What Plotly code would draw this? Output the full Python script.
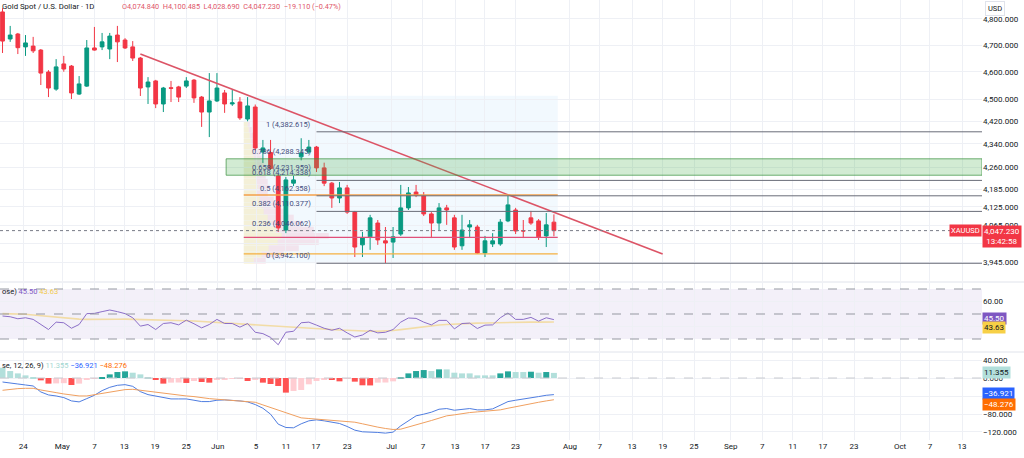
import numpy as np
import plotly.graph_objects as go

GREEN = "#089981"
RED = "#f23645"
GRID = "#eef0f5"
TXT = "#131722"
FONT = "Roboto, 'Noto Sans', sans-serif"

# daily bars, oldest first
OPEN = [4827, 4723, 4742, 4693, 4696, 4681, 4599, 4536, 4629, 4621, 4518, 4547, 4689, 4693, 4685,
        4738, 4719, 4693, 4651, 4544, 4566, 4482, 4541, 4544, 4547, 4569, 4507, 4453, 4493, 4522,
        4482, 4489, 4428, 4471, 4312, 4310, 4229, 4049, 4205, 4295, 4312, 4329, 4257, 4205, 4155,
        4189, 4108, 4001, 4027, 4072, 4014, 4010, 4036, 4122, 4175, 4162, 4102, 4072, 4122, 4089,
        3998, 4059, 4059, 3975, 4004, 4004, 4079, 4115, 4047, 4089, 4079, 4030, 4074.840]
HIGH = [4842, 4773, 4746, 4738, 4731, 4685, 4606, 4647, 4659, 4625, 4584, 4719, 4769, 4746, 4746,
        4773, 4726, 4715, 4655, 4580, 4570, 4544, 4566, 4548, 4580, 4573, 4511, 4595, 4595, 4533,
        4533, 4507, 4507, 4480, 4354, 4354, 4235, 4226, 4230, 4360, 4354, 4333, 4275, 4209, 4209,
        4199, 4112, 4043, 4099, 4082, 4059, 4059, 4199, 4192, 4199, 4175, 4108, 4138, 4132, 4099,
        4099, 4082, 4066, 4030, 4039, 4085, 4162, 4122, 4082, 4112, 4085, 4105, 4100.485]
LOW = [4670, 4712, 4666, 4659, 4670, 4551, 4507, 4530, 4600, 4500, 4515, 4544, 4679, 4681, 4647,
       4636, 4685, 4640, 4511, 4482, 4467, 4453, 4489, 4489, 4540, 4486, 4400, 4364, 4489, 4450,
       4475, 4425, 4420, 4318, 4274, 4250, 4043, 4039, 4195, 4283, 4305, 4243, 4195, 4122, 4138,
       4102, 3962, 3962, 3985, 4001, 3943, 3959, 4030, 4115, 4158, 4095, 4023, 4049, 4066, 3985,
       3985, 4023, 3972, 3962, 3994, 3998, 4075, 4036, 4023, 4066, 4017, 3994, 4028.690]
CLOSE = [4715, 4738, 4690, 4708, 4678, 4595, 4540, 4618, 4610, 4522, 4555, 4689, 4681, 4712, 4734,
         4712, 4689, 4651, 4540, 4562, 4482, 4540, 4539, 4507, 4566, 4504, 4453, 4493, 4540, 4482,
         4486, 4432, 4475, 4326, 4326, 4255, 4056, 4216, 4216, 4308, 4329, 4257, 4205, 4155, 4189,
         4108, 3994, 4023, 4089, 4017, 4007, 4027, 4122, 4172, 4165, 4102, 4072, 4122, 4115, 3994,
         4049, 4066, 3975, 4014, 4014, 4075, 4132, 4046, 4046, 4072, 4027, 4066, 4047.230]

RSI = [48.4, 47.8, 46.2, 47.0, 45.7, 41.6, 37.6, 43.5, 43.0, 38.6, 41.6, 50.3, 50.5, 51.9, 53.2,
       51.9, 50.3, 47.0, 40.3, 41.6, 37.6, 42.4, 43.0, 41.3, 45.1, 42.2, 38.9, 41.6, 45.7, 42.4,
       42.4, 39.5, 42.4, 35.4, 34.3, 31.3, 25.4, 35.4, 36.2, 43.0, 43.5, 41.1, 38.6, 37.0, 38.6,
       34.9, 31.6, 33.2, 37.0, 34.9, 35.4, 37.6, 43.5, 46.8, 46.5, 43.5, 41.3, 44.9, 44.9, 38.1,
       42.4, 42.7, 38.4, 41.1, 41.3, 47.0, 50.8, 45.7, 45.7, 47.3, 44.3, 47.0, 45.50]
RSI_MA = [50.3, 50.2, 50.0, 49.8, 49.2, 48.6, 48.0, 47.6, 47.0, 46.4, 45.9, 45.7, 45.6, 45.6, 45.7,
          45.8, 45.9, 45.8, 45.6, 45.5, 45.4, 45.2, 45.0, 44.8, 44.6, 44.4, 44.0, 43.6, 43.2, 42.8,
          42.3, 41.9, 41.5, 41.2, 40.9, 40.5, 40.1, 39.6, 39.1, 38.6, 38.2, 37.9, 37.6, 37.4, 37.2,
          37.0, 36.6, 36.3, 36.2, 36.2, 36.3, 36.8, 37.5, 38.3, 39.2, 40.0, 40.6, 41.2, 41.6, 42.0,
          42.3, 42.5, 42.7, 42.8, 43.0, 43.1, 43.2, 43.3, 43.4, 43.5, 43.5, 43.6, 43.63]

MACD = [-8.9, -10.3, -13.3, -15.5, -17.7, -31.0, -37.6, -39.9, -43.5, -50.9, -53.1, -45.8, -38.4,
        -28.0, -20.7, -16.2, -14.8, -18.5, -30.3, -36.9, -39.9, -42.1, -46.5, -46.5, -46.5, -49.4,
        -52.4, -52.4, -49.4, -48.7, -49.4, -50.9, -53.1, -59.0, -67.2, -80.4, -102.6, -110.0,
        -110.7, -101.8, -95.2, -93.0, -95.2, -98.9, -101.1, -107.7, -115.9, -119.6, -119.6, -121.0,
        -122.5, -120.3, -106.3, -94.5, -84.1, -80.4, -76.0, -69.4, -67.9, -71.6, -69.4, -67.9,
        -70.8, -70.8, -68.6, -60.5, -52.4, -49.4, -47.2, -43.5, -41.3, -38.4, -36.921]
SIGNAL = [-27.3, -25.1, -23.6, -22.9, -22.9, -26.6, -30.3, -32.5, -35.4, -37.6, -39.9, -39.9, -36.9,
          -33.2, -31.0, -28.0, -25.8, -25.1, -27.3, -29.5, -31.7, -34.7, -36.9, -38.4, -39.9, -41.3,
          -44.3, -45.8, -47.2, -48.7, -49.4, -50.2, -51.7, -53.9, -59.8, -65.7, -70.8, -78.2,
          -84.1, -88.6, -90.0, -91.5, -92.3, -93.7, -94.5, -95.9, -98.2, -101.8, -106.3, -109.2,
          -112.2, -114.4, -113.7, -109.2, -104.8, -99.6, -94.5, -89.3, -84.1, -81.9, -79.0, -76.8,
          -75.3, -73.8, -72.3, -70.8, -67.2, -63.5, -60.5, -56.8, -53.9, -50.9, -48.276]
HIST = [22.9, 15.5, 10.3, 5.9, 1.5, -5.2, -12.5, -12.0, -11.5, -15.5, -12.5, -4.4, -1.5, 0.7, 8.1,
        13.3, 14.8, 11.8, 8.1, 1.5, -4.4, -12.5, -10.3, -10.0, -11.0, -6.6, -8.9, -10.3, -4.4, -3.0,
        -1.5, -1.2, -6.6, -3.0, -10.3, -13.3, -17.7, -32.5, -28.8, -26.6, -14.0, -6.6, -3.0, -4.4,
        -7.4, -1.5, -8.1, -16.2, -16.5, -10.3, -10.0, -7.4, 2.2, 10.3, 15.5, 17.7, 15.5, 19.2, 19.2,
        11.8, 10.3, 10.3, 5.9, 5.9, 5.9, 10.3, 14.8, 13.3, 13.3, 14.0, 11.8, 13.3, 11.355]

# date axis (bar positions of the labels)
TICK_POS = [2.7, 7.8, 12.0, 15.9, 19.9, 24.0, 28.1, 33.1, 37.0, 40.9, 45.0, 50.8, 54.9, 59.1, 63.0,
            67.0, 74.1, 78.0, 82.2, 86.2, 90.3, 95.1, 99.2, 103.2, 107.1, 111.2, 117.2, 121.1, 125.3]
TICK_TEXT = ["24", "May", "7", "13", "19", "25", "Jun", "5", "11", "17", "23", "Jul", "7", "13", "17",
             "23", "Aug", "7", "13", "19", "25", "Sep", "7", "11", "17", "23", "Oct", "7", "13"]
PRICE_TICKS = [4800, 4700, 4600, 4500, 4420, 4340, 4260, 4185, 4125, 4065, 4005, 3945]

# fibonacci retracement 3,942.100 -> 4,382.615
FIB_RATIOS = [1, 0.786, 0.658, 0.618, 0.5, 0.382, 0.236, 0]
FIB_LOW, FIB_HIGH = 3942.100, 4382.615
FIB_LINE_RATIOS = [1, 0.618, 0.5, 0.382, 0]

# trend line anchors (bar, price)
TREND_X = [18, 86.2]
TREND_Y = [4666, 3972]

# fixed range volume profile rows
VP_PRICE = [4410, 4390, 4370, 4350, 4330, 4310, 4290, 4270, 4250, 4230, 4210, 4190,
            4170, 4150, 4130, 4110, 4090, 4070, 4050, 4030, 4010, 3990, 3970, 3950]
VP_UP = [4, 5, 6, 7, 8, 9, 10, 11, 12, 12, 13, 14, 13, 16, 18, 20, 24, 27, 32, 38, 34, 25, 18, 10]
VP_DOWN = [2, 3, 4, 5, 6, 7, 8, 9, 10, 10, 11, 12, 11, 14, 16, 20, 26, 31, 38, 47, 41, 30, 22, 12]
VP_POC, VP_VAH, VP_VAL = 4025, 4165, 3972

LAST = CLOSE[-1]
n = len(CLOSE)
bars = list(range(n))

fig = go.Figure()

fig.add_trace(go.Candlestick(
    x=bars, open=OPEN, high=HIGH, low=LOW, close=CLOSE,
    increasing=dict(line=dict(color=GREEN, width=1), fillcolor=GREEN),
    decreasing=dict(line=dict(color=RED, width=1), fillcolor=RED),
    whiskerwidth=0, xaxis="x", yaxis="y", hoverinfo="skip"))

fig.add_trace(go.Scatter(x=TREND_X, y=TREND_Y, mode="lines",
                         line=dict(color="#dc5466", width=1.6), xaxis="x", yaxis="y"))

# RSI pane
fig.add_trace(go.Scatter(x=bars, y=RSI_MA, mode="lines",
                         line=dict(color="#f2dca6", width=1.6), xaxis="x", yaxis="y2"))
fig.add_trace(go.Scatter(x=bars, y=RSI, mode="lines",
                         line=dict(color="#8c6fc8", width=1), xaxis="x", yaxis="y2"))

# MACD pane
hist_colors = []
for i, h in enumerate(HIST):
    prev = HIST[i - 1] if i > 0 else h
    if h >= 0:
        hist_colors.append("#26a69a" if h > prev else "#b2dfdb")
    else:
        hist_colors.append("#ff5252" if h < prev else "#ffcdd2")
fig.add_trace(go.Bar(x=bars, y=HIST, marker=dict(color=hist_colors, line=dict(width=0)),
                     width=0.78, xaxis="x", yaxis="y3"))
fig.add_trace(go.Scatter(x=bars, y=MACD, mode="lines",
                         line=dict(color="#4f7de0", width=1), xaxis="x", yaxis="y3"))
fig.add_trace(go.Scatter(x=bars, y=SIGNAL, mode="lines",
                         line=dict(color="#f0a060", width=1), xaxis="x", yaxis="y3"))

X_RIGHT = 127.9
shapes = []
fib_start, fib_end = 31.5, 72.5
# fib background
shapes.append(dict(type="rect", xref="x", yref="y", x0=fib_start, x1=fib_end, y0=FIB_LOW, y1=4512,
                   fillcolor="rgba(33,150,243,0.06)", line=dict(width=0), layer="below"))
# volume profile
bar_px = 7.66
for p, u, d in zip(VP_PRICE, VP_UP, VP_DOWN):
    shapes.append(dict(type="rect", xref="x", yref="y", x0=fib_start, x1=fib_start + u / bar_px,
                       y0=p - 9.5, y1=p + 9.5, fillcolor="rgba(251,220,120,0.28)",
                       line=dict(width=0), layer="below"))
    shapes.append(dict(type="rect", xref="x", yref="y", x0=fib_start + u / bar_px,
                       x1=fib_start + (u + d) / bar_px, y0=p - 9.5, y1=p + 9.5,
                       fillcolor="rgba(242,120,150,0.16)", line=dict(width=0), layer="below"))
for lvl, col in [(VP_POC, "#e0507a"), (VP_VAH, "#f5a04a"), (VP_VAL, "#f5b041")]:
    shapes.append(dict(type="line", xref="x", yref="y", x0=fib_start, x1=fib_end, y0=lvl, y1=lvl,
                       line=dict(color=col, width=1.3)))
# green zone 0.658 - 0.786
z_lo = FIB_LOW + 0.658 * (FIB_HIGH - FIB_LOW)
z_hi = FIB_LOW + 0.786 * (FIB_HIGH - FIB_LOW)
shapes.append(dict(type="rect", xref="x", yref="y", x0=29.2, x1=X_RIGHT, y0=z_lo, y1=z_hi,
                   fillcolor="rgba(76,175,80,0.25)", line=dict(color="rgba(56,142,60,0.7)", width=1)))
for r in FIB_LINE_RATIOS:
    lvl = FIB_LOW + r * (FIB_HIGH - FIB_LOW)
    shapes.append(dict(type="line", xref="x", yref="y", x0=41, x1=X_RIGHT, y0=lvl, y1=lvl,
                       line=dict(color="#6a6d78", width=1)))
# last price dotted line
shapes.append(dict(type="line", xref="paper", yref="y", x0=0, x1=1, y0=LAST, y1=LAST,
                   line=dict(color="#787b86", width=1, dash="dot")))
# RSI band
shapes.append(dict(type="rect", xref="paper", yref="y2", x0=0, x1=1, y0=30, y1=70,
                   fillcolor="rgba(126,87,194,0.09)", line=dict(width=0), layer="below"))
for lvl in [70, 50, 30]:
    shapes.append(dict(type="line", xref="paper", yref="y2", x0=0, x1=1, y0=lvl, y1=lvl,
                       line=dict(color="#9598a1", width=1, dash="dash")))
shapes.append(dict(type="line", xref="paper", yref="y3", x0=0, x1=1, y0=0, y1=0,
                   line=dict(color="#c8cad0", width=1, dash="dash")))
# pane separators
for yp in [1 - 282 / 440, 1 - 352 / 440]:
    shapes.append(dict(type="line", xref="paper", yref="paper", x0=0, x1=1.05, y0=yp, y1=yp,
                       line=dict(color="#e0e3eb", width=1)))

ann = []


def fmt(v, d=3):
    s = f"{abs(v):,.{d}f}"
    return ("\u2212" + s) if v < 0 else s


# fib labels
for r in FIB_RATIOS:
    lvl = FIB_LOW + r * (FIB_HIGH - FIB_LOW)
    ann.append(dict(x=40.5, y=np.log10(lvl), xref="x", yref="y", xanchor="right", yanchor="bottom",
                    yshift=1, showarrow=False, text=f"{r:g} ({lvl:,.3f})",
                    font=dict(size=7.5, color="#3f4d7d", family=FONT)))

# header
ann.append(dict(x=0, y=1 - 7 / 440, xref="paper", yref="paper", xanchor="left", yanchor="middle",
                showarrow=False, text="Gold Spot / U.S. Dollar · 1D",
                font=dict(size=7.8, color=TXT, family=FONT)))
ohlc = (f"O{OPEN[-1]:,.3f}  H{HIGH[-1]:,.3f}  L{LOW[-1]:,.3f}  C{LAST:,.3f}  "
        f"{fmt(-19.110)} ({fmt(-0.47, 2)}%)")
ann.append(dict(x=120 / 982, y=1 - 7 / 440, xref="paper", yref="paper", xanchor="left", yanchor="middle",
                showarrow=False, text=ohlc, font=dict(size=7.3, color="#e0566a", family=FONT)))
ann.append(dict(x=0, y=1 - 291 / 440, xref="paper", yref="paper", xanchor="left", yanchor="middle",
                showarrow=False,
                text=f"ose) <span style='color:#7e57c2'>{RSI[-1]:.2f}</span> "
                     f"<span style='color:#f2c94c'>{RSI_MA[-1]:.2f}</span>",
                font=dict(size=7.5, color=TXT, family=FONT)))
ann.append(dict(x=0, y=1 - 365 / 440, xref="paper", yref="paper", xanchor="left", yanchor="middle",
                showarrow=False,
                text=f"se, 12, 26, 9) <span style='color:#9fd6d0'>{HIST[-1]:.3f}</span> "
                     f"<span style='color:#2962ff'>{fmt(MACD[-1])}</span> "
                     f"<span style='color:#ff6d00'>{fmt(SIGNAL[-1])}</span>",
                font=dict(size=7.5, color=TXT, family=FONT)))

# price scale badges
ann.append(dict(x=1.003, y=1 - 8 / 440, xref="paper", yref="paper", xanchor="left", yanchor="middle",
                showarrow=False, text="USD", bgcolor="white", bordercolor="#e0e3eb", borderwidth=1,
                borderpad=2, font=dict(size=7.5, color=TXT, family=FONT)))
ann.append(dict(x=1.0, y=np.log10(LAST), xref="paper", yref="y", xanchor="right", yanchor="middle",
                showarrow=False, text="XAUUSD", bgcolor=RED, borderpad=1,
                font=dict(size=7.5, color="white", family=FONT)))
ann.append(dict(x=1.0, y=np.log10(LAST), xref="paper", yref="y", xanchor="left", yanchor="top",
                yshift=6, showarrow=False, text=f"{LAST:,.3f}<br>13:42:58", bgcolor=RED, borderpad=1,
                font=dict(size=8, color="white", family=FONT)))
ann.append(dict(x=1.0, y=RSI[-1], xref="paper", yref="y2", xanchor="left", yanchor="middle",
                yshift=1, showarrow=False, text=f"{RSI[-1]:.2f}", bgcolor="#7e57c2", borderpad=1,
                font=dict(size=8, color="white", family=FONT)))
ann.append(dict(x=1.0, y=RSI_MA[-1], xref="paper", yref="y2", xanchor="left", yanchor="middle",
                yshift=-6, showarrow=False, text=f"{RSI_MA[-1]:.2f}", bgcolor="#f7d046", borderpad=1,
                font=dict(size=8, color=TXT, family=FONT)))
ann.append(dict(x=1.0, y=HIST[-1], xref="paper", yref="y3", xanchor="left", yanchor="middle",
                showarrow=False, text=f"{HIST[-1]:.3f}", bgcolor="#b2dfdb", borderpad=1,
                font=dict(size=8, color=TXT, family=FONT)))
ann.append(dict(x=1.0, y=MACD[-1], xref="paper", yref="y3", xanchor="left", yanchor="middle",
                yshift=1, showarrow=False, text=fmt(MACD[-1]), bgcolor="#2962ff", borderpad=1,
                font=dict(size=8, color="white", family=FONT)))
ann.append(dict(x=1.0, y=SIGNAL[-1], xref="paper", yref="y3", xanchor="left", yanchor="middle",
                yshift=-5, showarrow=False, text=fmt(SIGNAL[-1]), bgcolor="#ff6d00", borderpad=1,
                font=dict(size=8, color="white", family=FONT)))

tickfont = dict(size=8, color=TXT, family=FONT)
fig.update_layout(
    width=1024, height=458,
    margin=dict(l=0, r=42, t=0, b=18),
    paper_bgcolor="white", plot_bgcolor="white",
    showlegend=False, hovermode=False, bargap=0.2,
    shapes=shapes, annotations=ann,
    xaxis=dict(range=[-0.33, X_RIGHT], tickvals=TICK_POS, ticktext=TICK_TEXT, anchor="y3",
               showgrid=True, gridcolor=GRID, zeroline=False, showline=False, ticks="",
               tickfont=tickfont, rangeslider=dict(visible=False), fixedrange=True),
    yaxis=dict(type="log", domain=[1 - 281 / 440, 1], side="right", anchor="x",
               range=[np.log10(3886.2), np.log10(4873.7)], tickvals=PRICE_TICKS,
               ticktext=[f"{v:,.3f}" for v in PRICE_TICKS], showgrid=True, gridcolor=GRID,
               zeroline=False, ticks="", tickfont=tickfont, ticklabelstandoff=0),
    yaxis2=dict(domain=[1 - 351 / 440, 1 - 283 / 440], side="right", anchor="x",
                range=[20.4, 74.8], tickvals=[60, 40, 20], ticktext=["60.00", "40.00", "20.00"],
                showgrid=True, gridcolor=GRID, zeroline=False, ticks="", tickfont=tickfont,
                ticklabelstandoff=0),
    yaxis3=dict(domain=[0, 1 - 353 / 440], side="right", anchor="x",
                range=[-137.8, 55.6], tickvals=[40, 0, -40, -80, -120],
                ticktext=[fmt(v) for v in [40, 0, -40, -80, -120]],
                showgrid=True, gridcolor=GRID, zeroline=False, ticks="", tickfont=tickfont,
                ticklabelstandoff=0),
)

# drop the default page margin so the 1024x458 figure fills the window exactly
fig.write_html("out.html", config={"displayModeBar": False},
               post_script="document.body.style.margin='0';document.body.style.overflow='hidden';")
